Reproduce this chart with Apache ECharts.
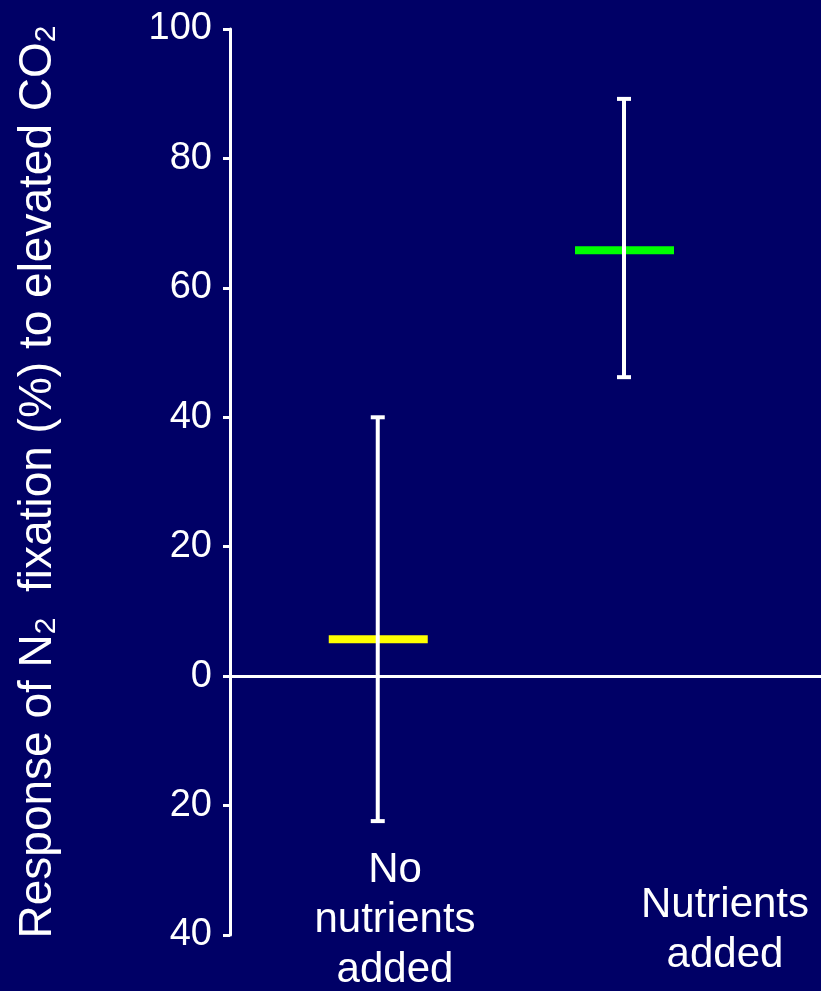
<!DOCTYPE html>
<html>
<head>
<meta charset="utf-8">
<script src="https://cdn.jsdelivr.net/npm/echarts@6/dist/echarts.min.js"></script>
<style>
  html, body { margin: 0; padding: 0; background: #000066; }
  #chart { width: 821px; height: 991px; }
</style>
</head>
<body>
<div id="chart"></div>
<script>
// Treatment groups and their N2-fixation response to elevated CO2 (%)
const groups = ['No\nnutrients\nadded', 'Nutrients\nadded'];
const groupX = [1, 2];
const meanResponse = [5.7, 65.8];
const lowerBound = [-22.4, 46.2];
const upperBound = [40.0, 89.2];
const meanColors = ['#ffff00', '#00ff00'];

const FONT = '"Liberation Sans", Arial, sans-serif';

const chart = echarts.init(document.getElementById('chart'));

const meanData = groupX.map((x, i) => [x, meanResponse[i], i]);
const errData = groupX.map((x, i) => [x, lowerBound[i], upperBound[i]]);

chart.setOption({
  backgroundColor: '#000066',
  animation: false,
  grid: { left: 230, right: 0, top: 29, bottom: 56, containLabel: false, outerBoundsMode: 'none' },
  xAxis: {
    type: 'value',
    min: 0.4,
    max: 2.8,
    axisLine: { show: true, onZero: true, lineStyle: { color: '#ffffff', width: 3 } },
    axisTick: { show: false },
    axisLabel: { show: false },
    splitLine: { show: false }
  },
  yAxis: {
    type: 'value',
    min: -40,
    max: 100,
    interval: 20,
    name: 'Response of N{sub|2}  fixation (%) to elevated CO{sub|2}',
    nameLocation: 'middle',
    nameRotate: 90,
    nameGap: 168,
    nameTextStyle: {
      color: '#ffffff',
      fontFamily: FONT,
      fontSize: 46,
      rich: {
        sub: { fontSize: 30, fontFamily: FONT, color: '#ffffff', verticalAlign: 'bottom', padding: [18, 0, 0, 0] }
      }
    },
    axisLine: { show: true, onZero: false, lineStyle: { color: '#ffffff', width: 3 } },
    axisTick: { show: true, inside: false, length: 7, lineStyle: { color: '#ffffff', width: 3 } },
    axisLabel: {
      color: '#ffffff',
      fontFamily: FONT,
      fontSize: 38,
      margin: 18,
      formatter: v => String(Math.abs(v))
    },
    splitLine: { show: false }
  },
  series: [
    {
      type: 'custom',
      name: 'mean',
      data: meanData,
      z: 2,
      renderItem: (params, api) => {
        const c = api.coord([api.value(0), api.value(1)]);
        const idx = api.value(2);
        return {
          type: 'rect',
          shape: { x: c[0] - 49, y: c[1] - 4, width: 99, height: 8 },
          style: { fill: meanColors[idx] }
        };
      }
    },
    {
      type: 'custom',
      name: 'range',
      data: errData,
      z: 3,
      renderItem: (params, api) => {
        const lo = api.coord([api.value(0), api.value(1)]);
        const hi = api.coord([api.value(0), api.value(2)]);
        const st = { stroke: '#ffffff', lineWidth: 4 };
        return {
          type: 'group',
          children: [
            { type: 'line', shape: { x1: lo[0], y1: lo[1], x2: hi[0], y2: hi[1] }, style: st },
            { type: 'line', shape: { x1: lo[0] - 7, y1: lo[1], x2: lo[0] + 7, y2: lo[1] }, style: st },
            { type: 'line', shape: { x1: hi[0] - 7, y1: hi[1], x2: hi[0] + 7, y2: hi[1] }, style: st }
          ]
        };
      }
    }
  ],
  graphic: [
    {
      type: 'text', left: 395 - 90, top: 845,
      style: { text: groups[0], fill: '#ffffff', font: '42px ' + FONT, textAlign: 'center', lineHeight: 50, width: 180, x: 90 }
    },
    {
      type: 'text', left: 725 - 90, top: 880,
      style: { text: groups[1], fill: '#ffffff', font: '42px ' + FONT, textAlign: 'center', lineHeight: 50, width: 180, x: 90 }
    }
  ]
});
</script>
</body>
</html>
